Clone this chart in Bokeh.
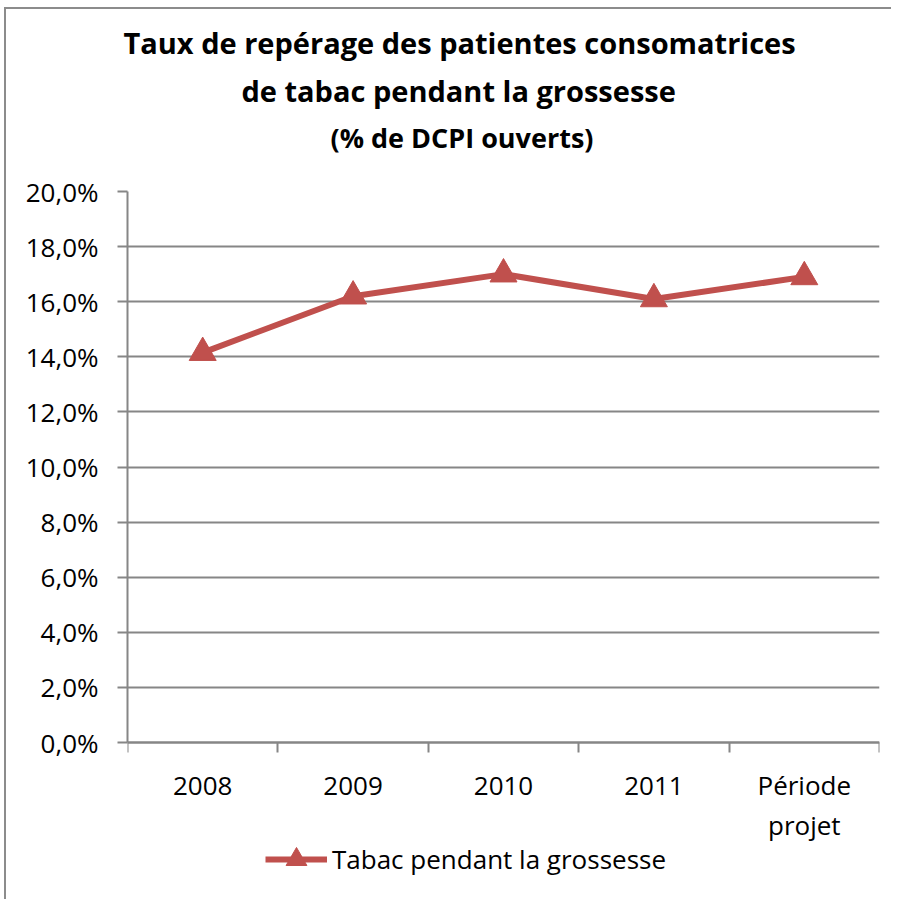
from bokeh.plotting import figure
from bokeh.models import (Range1d, FixedTicker, Title, Legend, LegendItem,
                          ColumnDataSource)
from bokeh.embed import file_html
from bokeh.resources import INLINE

# ---- data ----
categories = ["2008", "2009", "2010", "2011", "Période\nprojet"]
values = [14.15, 16.2, 17.0, 16.1, 16.9]          # % de DCPI ouverts
y_ticks = [0, 2, 4, 6, 8, 10, 12, 14, 16, 18, 20]
y_tick_labels = ["0,0%", "2,0%", "4,0%", "6,0%", "8,0%", "10,0%",
                 "12,0%", "14,0%", "16,0%", "18,0%", "20,0%"]
series_name = "Tabac pendant la grossesse"
title_lines = ["Taux de repérage des patientes consomatrices",
               "de tabac pendant la grossesse",
               "(% de DCPI ouverts)"]

FONT = "Open Sans"
RED = "#C0504D"
GRID = "#868686"

# layout (pixels): plot area 551 px tall for 0..20 %, 157 px below it
PLOT_H, BELOW_H = 551, 157
y_max = y_ticks[-1]
y_lo = -y_max * BELOW_H / PLOT_H   # room under the axis for labels + legend

xpos = [i + 0.5 for i in range(len(categories))]
src = ColumnDataSource(dict(x=xpos, y=values))

# chart-area border (left and top edges) drawn as a CSS background
border_css = ("linear-gradient(#8c8c8c, #8c8c8c) 4px 7px / 2px 100% no-repeat, "
              "linear-gradient(#8c8c8c, #8c8c8c) 4px 7px / 100% 2px no-repeat, white")

p = figure(width=891, height=899, output_backend="svg", toolbar_location=None,
           x_range=Range1d(0, len(categories)), y_range=Range1d(y_lo, y_max),
           min_border_left=127, min_border_right=12,
           min_border_top=191, min_border_bottom=0,
           styles={"background": border_css})
p.outline_line_color = None
p.background_fill_color = "white"
p.border_fill_color = None

# y axis
p.yaxis.bounds = (0, y_max)
p.yaxis.ticker = FixedTicker(ticks=y_ticks, minor_ticks=[])
p.yaxis.major_label_overrides = {t: l for t, l in zip(y_ticks, y_tick_labels)}
p.yaxis.axis_line_color = GRID
p.yaxis.axis_line_width = 2
p.yaxis.major_tick_line_color = GRID
p.yaxis.major_tick_line_width = 2
p.yaxis.major_tick_out = 10
p.yaxis.major_tick_in = 0
p.yaxis.minor_tick_line_color = None
p.yaxis.major_label_text_font = FONT
p.yaxis.major_label_text_font_size = "26px"
p.yaxis.major_label_text_color = "black"
p.yaxis.major_label_standoff = 19

# x axis drawn at y = 0: labels at category centres, tick marks at boundaries
p.xaxis.fixed_location = 0
p.xaxis.ticker = FixedTicker(ticks=xpos, minor_ticks=list(range(len(categories) + 1)))
p.xaxis.major_label_overrides = {x: c for x, c in zip(xpos, categories)}
p.xaxis.axis_line_color = GRID
p.xaxis.axis_line_width = 2
p.xaxis.major_tick_line_color = None
p.xaxis.minor_tick_line_color = GRID
p.xaxis.minor_tick_line_width = 2
p.xaxis.minor_tick_out = 10
p.xaxis.minor_tick_in = 0
p.xaxis.major_label_text_font = FONT
p.xaxis.major_label_text_font_size = "26px"
p.xaxis.major_label_text_color = "black"
p.xaxis.major_label_text_line_height = 1.13
p.xaxis.major_label_standoff = 14

p.xgrid.grid_line_color = None
p.ygrid.ticker = FixedTicker(ticks=y_ticks)
p.ygrid.grid_line_color = GRID
p.ygrid.grid_line_width = 2

ln = p.line("x", "y", source=src, line_color=RED, line_width=6)
mk = p.scatter("x", "y", source=src, marker="triangle", size=27,
               fill_color=RED, line_color=RED)

legend = Legend(items=[LegendItem(label=series_name, renderers=[ln, mk])],
                location=(138, 14), orientation="horizontal",
                glyph_width=62, glyph_height=52, padding=0, margin=0,
                label_standoff=5,
                border_line_color=None, background_fill_alpha=0,
                label_text_font=FONT, label_text_font_size="26px",
                label_text_color="black")
p.add_layout(legend, "center")

# titles: spacer nearest the frame, then line 3, line 2; line 1 outermost
p.add_layout(Title(text=" ", text_font_size="1px", standoff=28), "above")
p.add_layout(Title(text=title_lines[2], align="left", offset=203, text_font=FONT,
                   text_font_size="27px", text_font_style="bold",
                   text_color="black", standoff=10), "above")
p.add_layout(Title(text=title_lines[1], align="left", offset=114, text_font=FONT,
                   text_font_size="29px", text_font_style="bold",
                   text_color="black", standoff=4), "above")
p.title.text = title_lines[0]
p.title.align = "left"
p.title.offset = -4
p.title.text_font = FONT
p.title.text_font_size = "29px"
p.title.text_font_style = "bold"
p.title.text_color = "black"
p.title.standoff = 10

open("out.html", "w").write(file_html(p, INLINE))
